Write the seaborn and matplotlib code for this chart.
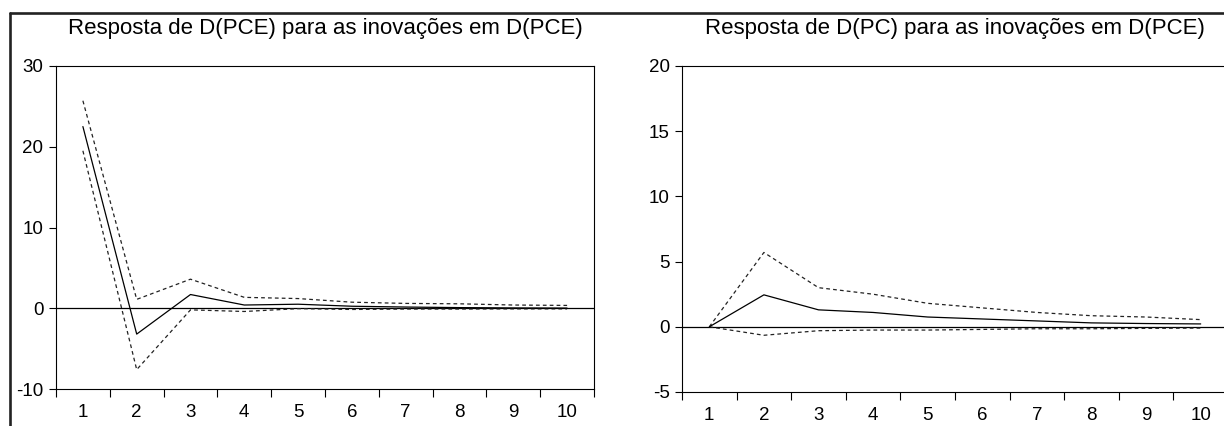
import matplotlib
matplotlib.use("Agg")
import matplotlib.pyplot as plt
from matplotlib.lines import Line2D
import seaborn as sns
import pandas as pd

# Horizons (periods) of the impulse responses
periods = [1, 2, 3, 4, 5, 6, 7, 8, 9, 10]

# Response of D(PCE) to D(PCE) innovations
pce_resp = [22.5, -3.2, 1.7, 0.4, 0.5, 0.25, 0.15, 0.08, 0.04, 0.02]
pce_upper = [25.7, 1.1, 3.6, 1.35, 1.2, 0.75, 0.6, 0.55, 0.4, 0.35]
pce_lower = [19.5, -7.6, -0.2, -0.4, -0.05, -0.15, -0.1, -0.1, -0.08, -0.08]

# Response of D(PC) to D(PCE) innovations
pc_resp = [0.0, 2.45, 1.3, 1.1, 0.75, 0.6, 0.45, 0.3, 0.25, 0.22]
pc_upper = [0.0, 5.7, 3.0, 2.5, 1.8, 1.45, 1.1, 0.85, 0.75, 0.55]
pc_lower = [0.0, -0.65, -0.3, -0.25, -0.25, -0.2, -0.15, -0.15, -0.12, -0.1]

titles = ["Resposta de D(PCE) para as inovações em D(PCE)",
          "Resposta de D(PC) para as inovações em D(PCE)"]

sns.set_theme(style="white")
plt.rcParams['font.family'] = ['Liberation Sans', 'DejaVu Sans']
plt.rcParams['axes.unicode_minus'] = False

W, H = 1224, 426
fig = plt.figure(figsize=(W / 100, H / 100), dpi=100)

# axes boxes in pixels: left, right, top, bottom
boxes = [(56, 594, 66, 389), (682, 1228, 66, 392)]
panels = [
    (pce_resp, pce_upper, pce_lower, [-10, 0, 10, 20, 30], (-10, 30)),
    (pc_resp, pc_upper, pc_lower, [-5, 0, 5, 10, 15, 20], (-5, 20)),
]

for (l, r, t, b), (resp, up, lo, yt, ylim), title in zip(boxes, panels, titles):
    ax = fig.add_axes([l / W, (H - b) / H, (r - l) / W, (b - t) / H])
    df = pd.DataFrame({'periodo': periods, 'resp': resp, 'sup': up, 'inf': lo})
    ax.axhline(0, color='black', lw=0.9)
    sns.lineplot(data=df, x='periodo', y='sup', ax=ax, color='#222222', lw=0.9,
                 linestyle=(0, (3, 2.5)))
    sns.lineplot(data=df, x='periodo', y='inf', ax=ax, color='#222222', lw=0.9,
                 linestyle=(0, (3, 2.5)))
    sns.lineplot(data=df, x='periodo', y='resp', ax=ax, color='black', lw=0.9)

    ax.set_xlim(0.5, 10.5)
    ax.set_ylim(*ylim)
    ax.set_xticks(periods)
    ax.set_xticklabels([str(p) for p in periods])
    ax.set_xticks([p - 0.5 for p in periods] + [10.5], minor=True)
    ax.set_yticks(yt)
    ax.set_yticklabels([str(v) for v in yt])
    ax.set_xlabel('')
    ax.set_ylabel('')
    ax.tick_params(axis='x', which='major', length=0, pad=11, labelsize=13.5,
                   colors='black')
    ax.tick_params(axis='x', which='minor', length=5.5, width=0.8, direction='out',
                   bottom=True, color='black')
    ax.tick_params(axis='y', length=5, width=0.8, direction='out', left=True,
                   pad=4, labelsize=13.5, colors='black')
    for s in ax.spines.values():
        s.set_color('black')
        s.set_linewidth(0.8)
    ax.set_title(title, fontsize=16, pad=23, color='black')

# outer frame (left and top edges)
fx = 10 / W
fy = 1 - 13 / H
fig.add_artist(Line2D([fx, fx], [0, fy], color='#222222', lw=1.9,
                      transform=fig.transFigure))
fig.add_artist(Line2D([fx, 1], [fy, fy], color='#222222', lw=1.9,
                      transform=fig.transFigure))

fig.savefig('out.png', dpi=100)
